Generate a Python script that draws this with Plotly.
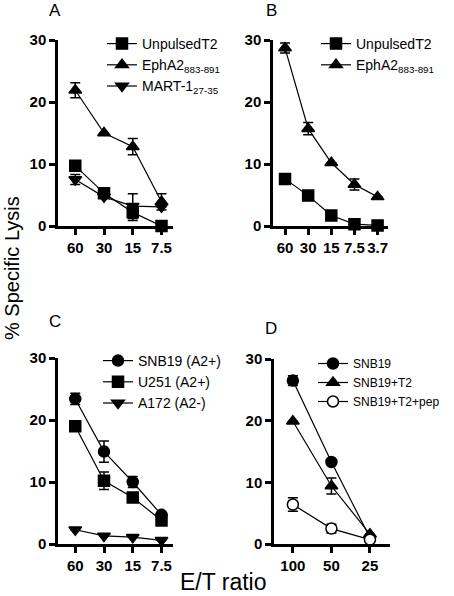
import plotly.graph_objects as go

# ---- data ----
et_a = ["60", "30", "15", "7.5"]
a_unpulsed = [9.7, 5.3, 2.2, 0.0]
a_unpulsed_err = [0.0, 0.0, 1.3, 0.0]
a_epha2 = [21.9, 15.0, 12.8, 3.9]
a_epha2_err = [1.2, 0.0, 1.3, 1.3]
a_mart = [7.5, 4.7, 3.2, 3.1]
a_mart_err = [0.8, 0.0, 2.0, 0.0]

et_b = ["60", "30", "15", "7.5", "3.7"]
b_unpulsed = [7.6, 4.9, 1.7, 0.3, 0.1]
b_unpulsed_err = [0.0, 0.0, 0.0, 0.0, 0.0]
b_epha2 = [28.7, 15.7, 10.2, 6.7, 4.7]
b_epha2_err = [0.8, 1.0, 0.0, 0.9, 0.0]

et_c = ["60", "30", "15", "7.5"]
c_snb19 = [23.4, 14.9, 10.0, 4.7]
c_snb19_err = [0.9, 1.7, 0.9, 0.0]
c_u251 = [19.0, 10.2, 7.5, 3.8]
c_u251_err = [0.0, 1.4, 0.0, 0.0]
c_a172 = [2.3, 1.3, 1.1, 0.6]
c_a172_err = [0.0, 0.0, 0.0, 0.0]

et_d = ["100", "50", "25"]
d_snb19 = [26.5, 13.3, 1.0]
d_snb19_err = [0.8, 0.0, 0.0]
d_t2 = [19.9, 9.4, 1.6]
d_t2_err = [0.0, 1.3, 0.0]
d_pep = [6.4, 2.5, 0.7]
d_pep_err = [1.1, 0.7, 0.0]

y_ticks = [0, 10, 20, 30]

FONT = "Liberation Sans, Arial, sans-serif"
W, H = 454, 596

fig = go.Figure()

def add(x, y, err, name, symbol, fill, xa, ya, legend):
    fig.add_trace(go.Scatter(
        x=x, y=y, name=name, mode="lines+markers",
        line=dict(color="black", width=1.2),
        marker=dict(symbol=symbol, size=11, color=fill,
                    line=dict(color="black", width=1.5)),
        error_y=dict(type="data", array=err, visible=True, color="black", thickness=1.5, width=5),
        xaxis=xa, yaxis=ya, legend=legend, cliponaxis=False,
    ))

add(et_a, a_unpulsed, a_unpulsed_err, "UnpulsedT2", "square", "black", "x", "y", "legend")
add(et_a, a_epha2, a_epha2_err, "EphA2<sub>883-891</sub>", "triangle-up", "black", "x", "y", "legend")
add(et_a, a_mart, a_mart_err, "MART-1<sub>27-35</sub>", "triangle-down", "black", "x", "y", "legend")

add(et_b, b_unpulsed, b_unpulsed_err, "UnpulsedT2", "square", "black", "x2", "y2", "legend2")
add(et_b, b_epha2, b_epha2_err, "EphA2<sub>883-891</sub>", "triangle-up", "black", "x2", "y2", "legend2")

add(et_c, c_snb19, c_snb19_err, "SNB19 (A2+)", "circle", "black", "x3", "y3", "legend3")
add(et_c, c_u251, c_u251_err, "U251 (A2+)", "square", "black", "x3", "y3", "legend3")
add(et_c, c_a172, c_a172_err, "A172 (A2-)", "triangle-down", "black", "x3", "y3", "legend3")

add(et_d, d_snb19, d_snb19_err, "SNB19", "circle", "black", "x4", "y4", "legend4")
add(et_d, d_t2, d_t2_err, "SNB19+T2", "triangle-up", "black", "x4", "y4", "legend4")
add(et_d, d_pep, d_pep_err, "SNB19+T2+pep", "circle", "white", "x4", "y4", "legend4")

def px_x(p):
    return p / W

def px_y(p):
    return (H - p) / H

panels = {
    "": dict(x0=58, x1=173, y0=40, y1=226, xr=[-0.6, 3.4]),
    "2": dict(x0=273, x1=388, y0=40, y1=226, xr=[-0.52, 4.45]),
    "3": dict(x0=58, x1=173, y0=358, y1=544, xr=[-0.6, 3.4]),
    "4": dict(x0=274, x1=390, y0=359, y1=544, xr=[-0.49, 2.52]),
}

axis_common = dict(showgrid=False, zeroline=False, showline=True, linecolor="black",
                   linewidth=2.5, ticks="outside", ticklen=6, tickwidth=2.5, tickcolor="black",
                   tickfont=dict(family=FONT, size=15, color="black", weight="bold"))

layout = {}
for k, p in panels.items():
    ya = "y" + k
    layout["xaxis" + k] = dict(axis_common, domain=[px_x(p["x0"]), px_x(p["x1"])],
                               anchor=ya, type="category", range=p["xr"], fixedrange=True,
                               automargin=False)
    layout["yaxis" + k] = dict(axis_common, domain=[px_y(p["y1"]), px_y(p["y0"])],
                               anchor="x" + k, range=[0, 30], tickvals=y_ticks, fixedrange=True,
                               automargin=False)

leg_common = dict(bgcolor="rgba(0,0,0,0)", borderwidth=0, itemwidth=30,
                  xanchor="left", yanchor="top", tracegroupgap=0,
                  font=dict(family=FONT, size=14, color="black"))
layout["legend"] = dict(leg_common, x=px_x(102), y=px_y(28))
layout["legend2"] = dict(leg_common, x=px_x(316), y=px_y(28))
layout["legend3"] = dict(leg_common, x=px_x(98), y=px_y(345))
layout["legend4"] = dict(leg_common, x=px_x(313), y=px_y(349), font=dict(family=FONT, size=12, color="black"))

ann = []
for txt, x, y in [("A", 55, 10), ("B", 271, 10), ("C", 55, 322), ("D", 271, 328)]:
    ann.append(dict(text=txt, x=px_x(x), y=px_y(y), xref="paper", yref="paper",
                    showarrow=False, xanchor="center", yanchor="middle",
                    font=dict(family=FONT, size=17, color="black")))
ann.append(dict(text="% Specific Lysis", x=px_x(12), y=px_y(268), xref="paper", yref="paper",
                showarrow=False, textangle=-90, xanchor="center", yanchor="middle",
                font=dict(family=FONT, size=20, color="black")))
ann.append(dict(text="E/T ratio", x=px_x(223), y=px_y(582), xref="paper", yref="paper",
                showarrow=False, xanchor="center", yanchor="middle",
                font=dict(family=FONT, size=23, color="black")))

fig.update_layout(**layout)
fig.update_layout(width=W, height=H, margin=dict(l=0, r=0, t=0, b=0, autoexpand=False),
                  paper_bgcolor="white", plot_bgcolor="white", showlegend=True,
                  annotations=ann, font=dict(family=FONT, color="black"))

fig.write_html("out.html", config={"displayModeBar": False},
               post_script="document.body.style.margin='0';")
